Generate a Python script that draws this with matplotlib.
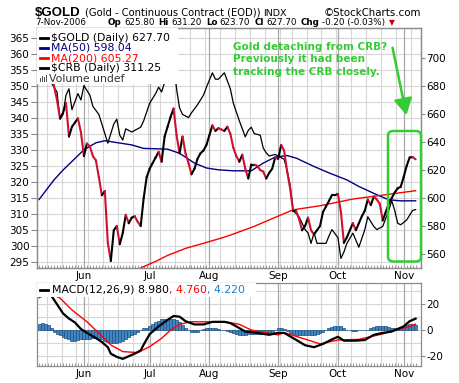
import numpy as np
import pandas as pd
import matplotlib
matplotlib.use("Agg")
import matplotlib.pyplot as plt
from matplotlib.collections import LineCollection
from matplotlib.patches import Rectangle, FancyBboxPatch, FancyArrowPatch

# ---------------- data ----------------
holidays = ["2006-05-29", "2006-07-04", "2006-09-04"]
dates = pd.bdate_range("2006-05-10", "2006-11-07")
dates = dates[~dates.isin(pd.to_datetime(holidays))]

gold = [705, 714, 720, 700, 690, 680, 670, 657, 661, 668,
        644, 651, 654, 657, 647, 630, 639, 637, 630, 627,
        615, 602, 605, 568, 555, 577, 580, 567, 575, 588,
        582, 586, 587, 583, 580, 600, 615, 621, 625, 629,
        633, 626, 644, 651, 658, 664, 645, 632, 644, 632,
        625, 617, 621, 628, 632, 634, 638, 645, 652, 648,
        650, 649, 648, 651, 646, 636, 630, 626, 631, 621,
        614, 624, 624, 623, 620, 619, 614, 618, 621, 629,
        628, 638, 634, 619, 607, 591, 591, 585, 577, 580,
        586, 577, 574, 577, 580, 590, 594, 598, 602, 602,
        603, 590, 568, 572, 577, 582, 577, 582, 587, 591,
        599, 595, 601, 599, 596, 584, 590, 596, 600, 604,
        607, 608, 615, 623, 629, 629.3, 627.7]

crb_days = [0, 1, 2, 3, 4, 6, 7, 8, 9, 10, 11, 13, 14, 15, 17, 18, 20, 21, 23, 25,
            26, 27, 28, 29, 31, 34, 35, 37, 39, 40, 41, 42, 43, 44, 45, 46, 47, 48, 50, 51,
            53, 55, 56, 58, 59, 60, 62, 64, 65, 67, 69, 70, 71, 72, 74, 75, 76, 77, 79, 80,
            82, 83, 84, 85, 87, 89, 90, 91, 92, 93, 96, 97, 98, 100, 101, 102, 103, 105, 107, 109,
            110, 112, 113, 115, 117, 118, 119, 120, 121, 123, 125, 126]
crb_vals = [360, 362, 358, 354, 351, 348, 339.5, 341, 347, 349, 342.5, 347.5, 345.5, 350, 347, 343.5, 341, 338, 332, 338,
            339.5, 334.5, 333, 336.5, 335.5, 337, 339, 344.5, 347.5, 349.5, 348, 351, 355, 357, 357.5, 349, 343, 341, 340, 341.5,
            344, 347, 349.5, 354, 352, 352, 354, 349, 344.5, 339, 334, 336, 337, 335, 334.5, 330.5, 329, 328, 328.5, 328,
            327, 323.5, 319, 311, 309, 305, 304, 300.7, 304, 300.7, 300.7, 303, 305, 302.5, 296, 298, 300.7, 303.9, 299.5, 305,
            309, 306, 305, 306, 311, 314, 311, 307, 306.5, 308, 311, 311.25]

ma50_days = [0, 5, 8, 15, 19, 22, 25, 31, 35, 43, 47, 52, 56, 60, 65, 71, 75, 79, 83, 86,
             92, 97, 103, 107, 113, 117, 121, 126]
ma50_vals = [599, 613, 620, 634.5, 639.5, 641, 640, 638, 635.5, 635, 632, 625, 621.5, 620.2, 619.5, 619.5, 625, 629.3, 630.4, 628.6,
             622.6, 618, 613, 608.3, 602.4, 598.8, 598, 598.04]

ma200_days = [34, 35, 39, 43, 49, 56, 61, 64, 72, 81, 85, 94, 105, 116, 126]
ma200_vals = [550, 551, 554.7, 559, 564, 568.3, 571.4, 573.5, 579.8, 588, 591.6, 594.5, 599.3, 602.4, 605.27]

macd_days = [0, 2, 4, 6, 8, 10, 12, 14, 16, 19, 21, 23, 24, 26, 28, 30, 32, 34, 35, 37,
             40, 43, 45, 47, 49, 52, 55, 58, 62, 64, 66, 69, 73, 77, 80, 82, 85, 89, 92, 95,
             98, 100, 102, 106, 109, 112, 115, 118, 120, 122, 124, 126]
macd_vals = [34, 31, 27, 20, 13, 9, 6, 1, -2, -6, -9, -13, -18, -20.5, -22, -20, -18, -15.5, -11, -3,
             3, 8, 11, 10.5, 7, 4.5, 4.5, 6.5, 6.5, 5.5, 3, -1, -2, -3.5, -2, -2, -6, -11.5, -13, -10.5,
             -7, -5, -8, -8, -7.5, -3.5, -2, -1, 1, 3, 7, 8.98]

sig_days = [0, 3, 5, 7, 11, 16, 20, 24, 28, 33, 37, 41, 44, 47, 51, 55, 62, 67, 71, 76,
            80, 82, 90, 94, 100, 107, 115, 120, 124, 126]
sig_vals = [25, 28.5, 27, 24.8, 15.6, 6.6, -2.3, -11.3, -16.4, -17.2, -12.6, -6.2, 0.2, 4.6, 6.6, 6.5, 6.6, 4.6, 0.2, -2,
            -3.6, -1.8, -7.5, -10.5, -7.5, -7, -2.8, 0.7, 2.8, 4.76]

hist = [5, 5.5, 5, 4, 1.5, -1, -3, -4, -5, -6,
        -7, -8, -8, -7.5, -7, -7, -7, -6.5, -6, -6,
        -6, -7, -8, -9, -10, -10, -10, -9, -8, -6.5,
        -5, -4, -3, -1, 0.5, 1.5, 2, 3.5, 5, 6.5,
        7.5, 8.5, 8.5, 9, 9, 9, 8, 6, 4, 2,
        0, -1.5, -1.5, -1, 0, 1, 1.5, 1.5, 1.5, 1.5,
        1, 0.5, 0, -0.5, -1, -2, -3, -3.5, -4, -3.5,
        -3, -3, -3, -2.5, -2.5, -2, -2, -1.5, -1, 0.5,
        2, 2, 1, -0.5, -2, -3, -3.5, -4, -4, -4,
        -4, -4, -3.5, -3, -2, -1, 0.5, 1.5, 2.5, 3,
        3.5, 3.5, 1.5, 0, 0, -0.5, -0.5, 0, 0, 0,
        0.5, 1.5, 2.5, 3, 3, 3.5, 3, 2.5, 2, 2,
        2, 2.5, 3, 4, 4.5, 4.5, 4.22]

crb_ticks = [295, 300, 305, 310, 315, 320, 325, 330, 335, 340, 345, 350, 355, 360, 365]
gold_ticks = [560, 580, 600, 620, 640, 660, 680, 700]
macd_ticks = [-20, 0, 20]

# ---------------- layout helpers ----------------
W, H = 460, 383
def fx(px):
    return px / W
def fy(py):
    return 1 - py / H

n = len(dates)
idx = np.arange(n)
month_starts = [i for i in range(1, n) if dates[i].month != dates[i - 1].month]
month_labels = [dates[i].strftime("%b") for i in month_starts]
week_bounds = [i - 0.5 for i in range(1, n) if dates[i].weekday() < dates[i - 1].weekday()]

XL = (-0.7, 127.8)
GRID_LIGHT = "#d6d6d6"
GRID_MONTH = "#a8a8a8"
SPINE = "#8c8c8c"
GREEN = "#33cc33"
FS = 7.5
LFS = 7.8

plt.rcParams["font.family"] = ["DejaVu Sans"]
fig = plt.figure(figsize=(W / 100, H / 100), dpi=100)
fig.patch.set_facecolor("white")
fig.canvas.draw()
R = fig.canvas.get_renderer()

# ---------------- main panel ----------------
ax = fig.add_axes([fx(37), fy(268), (421 - 37) / W, (268 - 28) / H])
ax.set_xlim(*XL)
ax.set_ylim(293.0, 368.0)
for wb in week_bounds:
    ax.axvline(wb, color=GRID_LIGHT, lw=0.8, zorder=0)
for ms in month_starts:
    ax.axvline(ms, color=GRID_MONTH, lw=0.9, zorder=0.5)
for t in crb_ticks:
    ax.axhline(t, color=GRID_LIGHT, lw=0.8, zorder=0)
ax.set_yticks(crb_ticks)
ax.set_yticklabels([str(t) for t in crb_ticks], fontsize=FS)
ax.tick_params(axis="y", length=4, width=0.8, color=SPINE, pad=1.5)
ax.set_xticks(month_starts)
ax.set_xticklabels(month_labels, fontsize=FS)
ax.set_xticks(idx, minor=True)
ax.tick_params(axis="x", which="major", length=0, pad=2.5)
ax.tick_params(axis="x", which="minor", length=2, width=0.6, color=SPINE, direction="in")
ax.plot(crb_days, crb_vals, color="black", lw=0.9, zorder=3)

axg = ax.twinx()
axg.set_xlim(*XL)
axg.set_ylim(550.0, 721.6)
axg.set_yticks(gold_ticks)
axg.set_yticklabels([str(t) for t in gold_ticks], fontsize=FS)
axg.tick_params(axis="y", length=3, width=0.8, color=SPINE, pad=1)
axg.plot(ma50_days, ma50_vals, color="#000080", lw=1.0, zorder=2)
axg.plot(ma200_days, ma200_vals, color="#ff0000", lw=1.0, zorder=2)
segs = [[(i - 1, gold[i - 1]), (i, gold[i])] for i in range(1, n)]
cols = ["#d0102e" if gold[i] < gold[i - 1] else "black" for i in range(1, n)]
axg.add_collection(LineCollection(segs, colors=cols, linewidths=1.5, zorder=4,
                                  capstyle="round", joinstyle="round"))
for a in (ax, axg):
    for s in a.spines.values():
        s.set_color(SPINE)
        s.set_linewidth(0.9)

# legend box (main)
axg.add_patch(Rectangle((0, 1 - (84 - 28) / 240), (178 - 37) / 384, (84 - 28) / 240,
                        transform=axg.transAxes, facecolor="white", edgecolor="none", zorder=10))
leg_rows = [("$GOLD (Daily) 627.70", "black", 37.7),
            ("MA(50) 598.04", "#000080", 47.9),
            ("MA(200) 605.27", "#ff0000", 58.2),
            ("$CRB (Daily) 311.25", "black", 68.4)]
for txt, c, yy in leg_rows:
    fig.add_artist(plt.Line2D([fx(40), fx(48)], [fy(yy), fy(yy)], color=c, lw=2, zorder=11))
    fig.text(fx(51.5), fy(yy), txt, color=c, fontsize=LFS, va="center", ha="left", zorder=11)
for k, hh in enumerate([4, 6, 5, 7]):
    fig.add_artist(Rectangle((fx(40 + 2 * k), fy(82)), 1.4 / W, hh / H, transform=fig.transFigure,
                             facecolor="#555555", edgecolor="none", zorder=11))
fig.text(fx(49), fy(78.5), "Volume undef", color="#333333", fontsize=LFS, va="center", ha="left", zorder=11)

# ---------------- MACD panel ----------------
axm = fig.add_axes([fx(37), fy(366), (421 - 37) / W, (366 - 283) / H])
axm.set_xlim(*XL)
axm.set_ylim(-27.5, 36.4)
for wb in week_bounds:
    axm.axvline(wb, color=GRID_LIGHT, lw=0.8, zorder=0)
for ms in month_starts:
    axm.axvline(ms, color=GRID_MONTH, lw=0.9, zorder=0.5)
for t in [-20, -10, 0, 10, 20, 30]:
    axm.axhline(t, color=GRID_LIGHT, lw=0.8, zorder=0)
axm.bar(idx, hist, width=1.0, color="#3f86c4", edgecolor="#1d4f7e", linewidth=0.5, zorder=2)
axm.plot(sig_days, sig_vals, color="#ff0000", lw=1.0, zorder=3)
axm.plot(macd_days, macd_vals, color="black", lw=1.6, zorder=4)
axm.yaxis.tick_right()
axm.set_yticks(macd_ticks)
axm.set_yticklabels([str(t) for t in macd_ticks], fontsize=FS)
axm.tick_params(axis="y", length=3, width=0.8, color=SPINE, pad=1)
axm.set_xticks(month_starts)
axm.set_xticklabels(month_labels, fontsize=FS)
axm.set_xticks(idx, minor=True)
axm.tick_params(axis="x", which="major", length=0, pad=2.5)
axm.tick_params(axis="x", which="minor", length=2, width=0.6, color=SPINE, direction="in")
for s in axm.spines.values():
    s.set_color(SPINE)
    s.set_linewidth(0.9)
axm.add_patch(Rectangle((0, 1 - (297 - 283) / 83), (256 - 37) / 384, (297 - 283) / 83,
                        transform=axm.transAxes, facecolor="white", edgecolor="none", zorder=10))
fig.add_artist(plt.Line2D([fx(40), fx(48)], [fy(290), fy(290)], color="black", lw=2, zorder=11))
xcur = 52
for txt, c in [("MACD(12,26,9) 8.980", "black"), (", 4.760", "#ff0000"), (", 4.220", "#1f7fc4")]:
    t = fig.text(fx(xcur), fy(290), txt, color=c, fontsize=LFS, va="center", zorder=11)
    xcur = t.get_window_extent(R).x1

# ---------------- header ----------------
fig.text(fx(35), fy(15.5), "$GOLD", fontsize=9.5, fontweight="bold", family="Liberation Sans", va="baseline")
fig.text(fx(85), fy(15.5), "(Gold - Continuous Contract (EOD))", fontsize=7.2, va="baseline")
fig.text(fx(263), fy(15.5), "INDX", fontsize=6.8, va="baseline")
fig.text(fx(421), fy(15.5), "\u00a9StockCharts.com", fontsize=7.4, va="baseline", ha="right")
hdr = [("7-Nov-2006", "normal", 22), ("Op", "bold", 2.5), ("625.80", "normal", 4),
       ("Hi", "bold", 2.5), ("631.20", "normal", 4), ("Lo", "bold", 2.5), ("623.70", "normal", 4),
       ("Cl", "bold", 2.5), ("627.70", "normal", 4), ("Chg", "bold", 2.5), ("-0.20 (-0.03%)", "normal", 3)]
xcur = 35
for t, w, gap in hdr:
    tt = fig.text(fx(xcur), fy(25), t, fontsize=6.3, fontweight=w, va="baseline")
    xcur = tt.get_window_extent(R).x1 + gap
fig.text(fx(xcur + 1), fy(25), "\u25bc", fontsize=5.5, color="#cc0000", va="baseline", ha="left")

# ---------------- annotation ----------------
for k, line in enumerate(["Gold detaching from CRB?", "Previously it had been", "tracking the CRB closely."]):
    fig.text(fx(233), fy(47 + 12.3 * k), line, color=GREEN, fontsize=7.5, fontweight="bold", va="center", ha="left")
fig.add_artist(FancyArrowPatch((fx(392), fy(45)), (fx(407), fy(118)), transform=fig.transFigure,
                               arrowstyle="-|>,head_length=4,head_width=2.2", color=GREEN, lw=1.8,
                               mutation_scale=2.5, zorder=5))
fig.add_artist(FancyBboxPatch((fx(388), fy(261.5)), (421 - 388) / W, (261.5 - 131) / H,
                              boxstyle="round,pad=0,rounding_size=0.012", transform=fig.transFigure,
                              facecolor="none", edgecolor=GREEN, lw=1.8, zorder=5))

fig.savefig("out.png", dpi=100)
